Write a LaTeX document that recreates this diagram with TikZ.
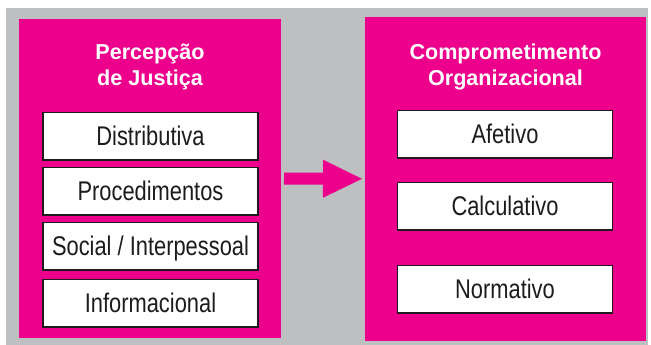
\documentclass[tikz,border=0pt]{standalone}
\usepackage{fontspec}
\setmainfont{Liberation Sans}
\newfontfamily\narrowfont[FakeStretch=0.81]{Liberation Sans}
\usetikzlibrary{positioning,arrows.meta}

\definecolor{jmagenta}{RGB}{236,0,140}
\definecolor{jgray}{RGB}{190,191,193}
\definecolor{jdark}{RGB}{30,27,28}

\begin{document}
\begin{tikzpicture}[%
		x=1pt,
		y=-1pt,
		node distance=6pt,
		panel/.style={%
			fill=jmagenta,
			inner sep=0pt,
			outer sep=0pt
		},
		heading/.style={%
			text=white,
			font=\fontsize{21.6}{26}\selectfont\bfseries,
			align=center
		},
		item/.style={%
			draw=jdark,
			line width=1.5pt,
			fill=white,
			text=jdark,
			minimum width=215pt,
			minimum height=47.5pt,
			inner sep=0pt,
			text height=19.4pt,
			text depth=0pt,
			font=\narrowfont\fontsize{27}{27}\selectfont
		}
		]
		\useasboundingbox (0,0) rectangle (651,345);
		\fill[jgray] (6,8) rectangle (648,345);
		
		\node[panel, minimum width=262pt, minimum height=319pt] (perc) at (150,178.5) {};
		\node[panel, minimum width=281pt, minimum height=324pt] (comp) at (505.5,179) {};
		
		% base is the baseline of the last line
		\node[heading, anchor=base] (percT) at (150,85)   {Percepção\\de Justiça};
		\node[heading, anchor=base] (compT) at (505.5,85) {Comprometimento\\Organizacional};
		
		\node[item] (dist)                   at (150.5,136) {Distributiva};
		\node[item] (proc) [below=of dist]                  {Procedimentos};
		\node[item] (soc)  [below=of proc]                  {Social / Interpessoal};
		\node[item] (info) [below=8pt of soc]               {Informacional};
		
		\node[item] (afet)                   at (505,134)   {Afetivo};
		\node[item] (calc) [below=23pt of afet]             {Calculativo};
		\node[item] (norm) [below=34pt of calc]             {Normativo};
		
		\draw[jmagenta, line width=12pt, shorten <=3pt, shorten >=3pt,
			-{Triangle[length=39pt,width=38pt,line width=0pt]}] (perc) -- (comp);
\end{tikzpicture}
\end{document}
